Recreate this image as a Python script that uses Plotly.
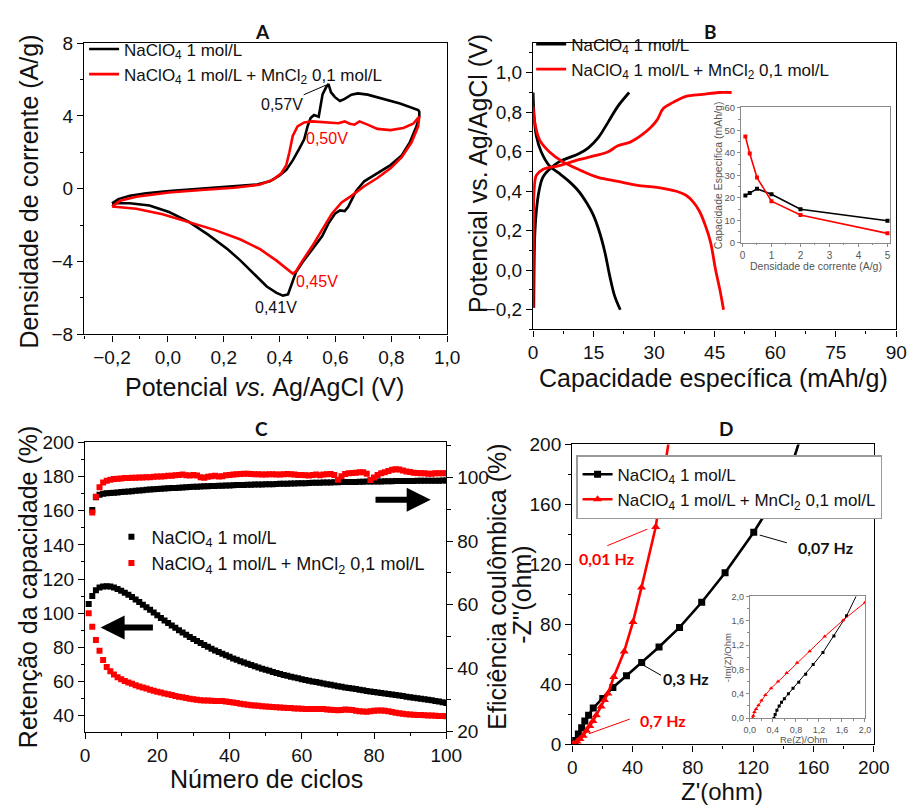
import plotly.graph_objects as go

W, H = 922, 810
FONT = "Liberation Sans"
BOLD = "Lato"
RED = "#ff0000"
BLACK = "#000000"

# ---------- A: cyclic voltammetry (potential V, current density A/g) ----------
cv_e_black = [-0.2, -0.177, -0.136, -0.078, 0.004, 0.12, 0.237, 0.319, 0.365, 0.4, 0.424, 0.447, 0.47,
              0.488, 0.5, 0.511, 0.523, 0.54, 0.546, 0.554, 0.566, 0.575, 0.584, 0.598, 0.616, 0.633,
              0.657, 0.68, 0.715, 0.773, 0.831, 0.896, 0.9,
              0.9, 0.89, 0.866, 0.837, 0.797, 0.75, 0.703, 0.674, 0.657, 0.645, 0.633, 0.616, 0.598,
              0.575, 0.552, 0.517, 0.482, 0.459, 0.441, 0.43, 0.412, 0.389, 0.354, 0.307, 0.26, 0.214,
              0.144, 0.074, 0.004, -0.066, -0.136, -0.183, -0.2]
cv_i_black = [-0.8, -0.57, -0.39, -0.25, -0.12, 0.0, 0.12, 0.23, 0.41, 0.73, 1.03, 1.56, 2.19,
              2.72, 3.43, 3.88, 4.05, 3.96, 4.5, 5.2, 5.56, 5.75, 5.3, 5.03, 4.82, 4.94,
              5.17, 5.24, 5.17, 4.94, 4.68, 4.32, 4.23,
              3.96, 3.43, 2.54, 1.83, 1.3, 0.85, 0.41, -0.12, -0.66, -1.01, -1.23, -1.19, -1.37,
              -1.9, -2.61, -3.32, -4.04, -4.57, -5.28, -5.81, -5.87, -5.72, -5.37, -4.66, -3.95, -3.32,
              -2.52, -1.81, -1.28, -0.92, -0.8, -0.8, -0.84]
cv_e_red = [-0.2, -0.171, -0.113, 0.004, 0.12, 0.237, 0.33, 0.377, 0.406, 0.424, 0.435, 0.447, 0.464,
            0.488, 0.517, 0.563, 0.61, 0.633, 0.651, 0.668, 0.686, 0.715, 0.75, 0.797, 0.843, 0.878, 0.9,
            0.896, 0.872, 0.837, 0.797, 0.75, 0.703, 0.657, 0.622, 0.587, 0.552, 0.517, 0.482, 0.459,
            0.447, 0.424, 0.389, 0.33, 0.26, 0.167, 0.074, -0.019, -0.113, -0.183, -0.2]
cv_i_red = [-0.98, -0.66, -0.44, -0.21, -0.07, 0.05, 0.23, 0.5, 0.85, 1.3, 2.0, 2.9, 3.43,
            3.64, 3.7, 3.64, 3.6, 3.7, 3.57, 3.52, 3.7, 3.52, 3.29, 3.22, 3.34, 3.57, 3.96,
            3.43, 2.54, 1.74, 1.12, 0.59, 0.14, -0.39, -0.75, -1.37, -2.26, -3.15, -3.95, -4.53,
            -4.66, -4.39, -3.95, -3.32, -2.79, -2.26, -1.81, -1.4, -1.1, -1.01, -0.98]

# ---------- B: charge / discharge (capacity mAh/g, potential V) ----------
gcd_black_ch_q = [0.16, 0.24, 0.4, 0.8, 1.45, 2.4, 4.0, 6.5, 8.9, 11.3, 13.7, 16.1, 18.6, 21.0, 23.8]
gcd_black_ch_v = [-0.19, 0.005, 0.17, 0.3, 0.4, 0.47, 0.51, 0.55, 0.57, 0.59, 0.62, 0.67, 0.75, 0.83, 0.9]
gcd_black_dis_q = [0.0, 0.24, 0.8, 2.0, 4.0, 6.5, 8.9, 11.3, 13.3, 14.9, 16.5, 17.8, 19.0, 20.2, 21.6]
gcd_black_dis_v = [0.9, 0.78, 0.68, 0.6, 0.53, 0.49, 0.45, 0.4, 0.34, 0.28, 0.19, 0.09, -0.03, -0.13, -0.2]
gcd_red_ch_q = [0.0, 0.08, 0.24, 0.8, 2.4, 6.5, 11.3, 15.3, 18.6, 21.0, 24.2, 26.6, 29.0, 30.7, 32.3,
                34.7, 37.9, 42.0, 46.0, 49.2]
gcd_red_ch_v = [-0.19, 0.17, 0.4, 0.48, 0.51, 0.53, 0.56, 0.58, 0.6, 0.63, 0.65, 0.68, 0.72, 0.76, 0.82,
                0.85, 0.88, 0.89, 0.9, 0.9]
gcd_red_dis_q = [0.0, 0.4, 1.6, 4.0, 7.3, 11.3, 16.1, 21.0, 25.8, 30.7, 35.5, 37.9, 39.5, 41.2, 42.8,
                 44.0, 45.2, 46.4, 47.2]
gcd_red_dis_v = [0.83, 0.75, 0.66, 0.6, 0.55, 0.51, 0.47, 0.45, 0.43, 0.42, 0.4, 0.38, 0.35, 0.3, 0.22,
                 0.14, 0.005, -0.11, -0.2]

# rate capability (inset)
rate_current = [0.1, 0.25, 0.5, 1, 2, 5]
rate_cap_black = [21.0, 22.1, 24.0, 21.6, 14.9, 9.8]
rate_cap_red = [47.3, 39.7, 29.0, 18.5, 12.4, 4.2]

# ---------- C: cycling stability ----------
cycles = list(range(1, 101))
retention_black = [105.3, 110, 113.5, 115, 115.6, 115.8, 115.6, 115, 114.2, 113.2,
                   112, 110.8, 109.5, 108, 106.6, 105, 103.5, 102, 100.4, 98.8,
                   97.2, 95.7, 94.2, 92.8, 91.4, 90, 88.7, 87.4, 86.1, 84.9,
                   83.7, 82.5, 81.4, 80.3, 79.2, 78.2, 77.2, 76.2, 75.3, 74.4,
                   73.5, 72.7, 71.9, 71.1, 70.3, 69.6, 68.9, 68.2, 67.5, 66.8,
                   66.2, 65.6, 65, 64.4, 63.8, 63.3, 62.8, 62.3, 61.8, 61.3,
                   60.8, 60.4, 60, 59.6, 59.2, 58.8, 58.4, 58, 57.6, 57.2,
                   56.9, 56.5, 56.2, 55.8, 55.5, 55.1, 54.8, 54.4, 54.1, 53.8,
                   53.5, 53.2, 52.9, 52.6, 52.3, 52, 51.7, 51.4, 51.1, 50.8,
                   50.5, 50.2, 49.9, 49.6, 49.3, 49, 48.6, 48.2, 47.8, 47.4]
retention_red = [100, 92, 84.3, 78, 72.5, 68.5, 66, 64, 62.5, 61.3,
                 60.3, 59.4, 58.6, 57.8, 57.1, 56.4, 55.8, 55.2, 54.6, 54,
                 53.5, 53, 52.5, 52, 51.5, 51.1, 50.7, 50.3, 49.9, 49.5,
                 49.2, 49, 48.9, 48.8, 48.7, 48.6, 48.6, 48.5, 48.3, 48,
                 47.7, 47.3, 46.9, 46.6, 46.3, 46.1, 45.9, 45.7, 45.5, 45.3,
                 45.2, 45, 44.9, 44.8, 44.6, 44.5, 44.4, 44.2, 44.1, 44,
                 43.9, 43.8, 43.8, 43.9, 43.9, 43.8, 43.6, 43.4, 43.2, 43.1,
                 43.3, 43.5, 43.4, 43.2, 42.9, 42.6, 42.4, 42.3, 42.5, 42.8,
                 43, 43, 42.8, 42.5, 42.1, 41.7, 41.3, 41, 40.8, 40.6,
                 40.5, 40.4, 40.3, 40.2, 40.1, 40, 39.9, 39.8, 39.7, 39.6]
ce_cycles = list(range(2, 101))
ce_black = [89.8, 93.8, 94.6, 94.9, 95.0, 95.1, 95.2, 95.3, 95.4,
            95.5, 95.6, 95.7, 95.8, 95.9, 96.0, 96.1, 96.2, 96.3, 96.4,
            96.45, 96.5, 96.6, 96.65, 96.7, 96.8, 96.85, 96.9, 97.0, 97.05,
            97.1, 97.15, 97.2, 97.25, 97.3, 97.35, 97.4, 97.4, 97.45, 97.5,
            97.55, 97.6, 97.6, 97.65, 97.7, 97.7, 97.75, 97.8, 97.8, 97.85,
            97.9, 97.9, 97.95, 98.0, 98.0, 98.05, 98.1, 98.1, 98.15, 98.2,
            98.2, 98.25, 98.3, 98.3, 98.35, 98.4, 98.4, 98.45, 98.5, 98.5,
            98.55, 98.55, 98.6, 98.6, 98.6, 98.65, 98.65, 98.7, 98.7, 98.7,
            98.75, 98.75, 98.8, 98.8, 98.8, 98.85, 98.85, 98.9, 98.9, 98.9,
            98.9, 98.95, 98.95, 98.95, 99.0, 99.0, 99.0, 99.0, 99.05, 99.05]
ce_red = [89.0, 93.9, 96.9, 98.4, 99.0, 99.3, 99.5, 99.6, 99.7,
          99.8, 99.8, 99.9, 99.9, 100.0, 100.0, 100.1, 100.1, 100.2, 100.3,
          100.3, 100.4, 100.5, 100.5, 100.7, 100.8, 100.9, 100.7, 100.6, 100.8,
          100.6, 100.1, 99.9, 100.2, 100.4, 100.5, 100.3, 100.4, 100.7, 100.8,
          100.9, 101.0, 101.1, 101.2, 101.2, 101.1, 101.0, 101.0, 100.9, 100.9,
          101.0, 101.0, 100.9, 100.9, 101.0, 101.1, 101.0, 100.9, 100.8, 100.8,
          100.7, 100.6, 100.8, 100.9, 100.7, 100.9, 101.0, 101.1, 100.8, 99.3,
          100.4, 101.1, 101.3, 101.4, 101.5, 101.6, 101.6, 101.2, 99.2, 100.0,
          100.8, 101.3, 101.6, 102.0, 102.4, 102.6, 102.5, 102.2, 101.9, 101.7,
          101.5, 101.4, 101.3, 101.3, 101.2, 101.2, 101.3, 101.3, 101.3, 101.3]

# ---------- D: Nyquist plots (ohm) ----------
eis_black_re = [0.4, 0.8, 1.9, 4.1, 6.3, 8.4, 10.9, 14.0, 20.3, 27.0, 36.0, 46.1, 57.6, 71.2, 85.9,
                101.4, 120.4, 143.0, 157.0]
eis_black_im = [0.0, 0.4, 2.6, 6.9, 11.2, 15.6, 19.5, 24.3, 30.7, 38.0, 45.8, 54.6, 65.0, 78.0, 94.8,
                114.5, 141.5, 178.0, 222.0]
eis_red_re = [0.05, 1.0, 3.2, 5.2, 7.3, 9.5, 11.7, 13.8, 16.0, 19.2, 21.4, 23.7, 27.6, 34.5, 40.3,
              46.0, 55.4, 66.0]
eis_red_im = [0.0, 0.5, 2.0, 3.7, 5.8, 9.1, 12.3, 15.6, 19.5, 25.3, 29.7, 34.0, 45.0, 62.0, 81.6,
              104.7, 145.0, 215.0]
# high-frequency detail (inset)
hf_black_re = [0.42, 0.44, 0.47, 0.51, 0.55, 0.6, 0.67, 0.75, 0.85, 0.97, 1.1, 1.27, 1.46, 1.68, 1.87]
hf_black_im = [0.0, 0.06, 0.13, 0.2, 0.26, 0.32, 0.4, 0.49, 0.59, 0.72, 0.88, 1.08, 1.35, 1.68, 2.05]
hf_red_re = [0.05, 0.06, 0.08, 0.11, 0.15, 0.2, 0.27, 0.37, 0.49, 0.64, 0.82, 1.04, 1.3, 1.62, 2.0]
hf_red_im = [0.0, 0.04, 0.1, 0.15, 0.21, 0.29, 0.38, 0.49, 0.6, 0.74, 0.91, 1.1, 1.34, 1.61, 1.9]

LBL_BLACK = "NaClO<sub>4</sub> 1 mol/L"
LBL_RED = "NaClO<sub>4</sub> 1 mol/L + MnCl<sub>2</sub> 0,1 mol/L"


def xdom(a, b):
    return [a / W, b / W]


def ydom(top, bottom):
    return [1 - bottom / H, 1 - top / H]


def axis(domain, rng, dtick, minor, fmt=None, size=19, color="#111111", line="#000000",
         tlen=6, lw=1.3, mirror=True, **kw):
    d = dict(domain=domain, range=rng, dtick=dtick, tick0=0, showgrid=False, zeroline=False,
             showline=True, linecolor=line, linewidth=lw, mirror=mirror, ticks="outside",
             ticklen=tlen, tickwidth=lw, tickcolor=line,
             tickfont=dict(family=FONT, size=size, color=color),
             minor=dict(ticks="outside", ticklen=tlen * 0.55, dtick=minor, tickcolor=line,
                        tickwidth=lw, showgrid=False))
    if fmt:
        d["tickformat"] = fmt
    d.update(kw)
    return d


fig = go.Figure()

# A
fig.add_trace(go.Scatter(x=cv_e_black, y=cv_i_black, mode="lines", name=LBL_BLACK,
                         line=dict(color=BLACK, width=2.6), xaxis="x", yaxis="y", legend="legend"))
fig.add_trace(go.Scatter(x=cv_e_red, y=cv_i_red, mode="lines", name=LBL_RED,
                         line=dict(color=RED, width=2.6), xaxis="x", yaxis="y", legend="legend"))

# B
fig.add_trace(go.Scatter(x=gcd_black_ch_q, y=gcd_black_ch_v, mode="lines", name=LBL_BLACK,
                         legendgroup="b1", line=dict(color=BLACK, width=2.8, shape="spline"),
                         xaxis="x2", yaxis="y2", legend="legend2"))
fig.add_trace(go.Scatter(x=gcd_black_dis_q, y=gcd_black_dis_v, mode="lines", name=LBL_BLACK,
                         legendgroup="b1", showlegend=False,
                         line=dict(color=BLACK, width=2.8, shape="spline"), xaxis="x2", yaxis="y2"))
fig.add_trace(go.Scatter(x=gcd_red_ch_q, y=gcd_red_ch_v, mode="lines", name=LBL_RED,
                         legendgroup="b2", line=dict(color=RED, width=2.8, shape="spline"),
                         xaxis="x2", yaxis="y2", legend="legend2"))
fig.add_trace(go.Scatter(x=gcd_red_dis_q, y=gcd_red_dis_v, mode="lines", name=LBL_RED,
                         legendgroup="b2", showlegend=False,
                         line=dict(color=RED, width=2.8, shape="spline"), xaxis="x2", yaxis="y2"))
fig.add_trace(go.Scatter(x=rate_current, y=rate_cap_black, mode="lines+markers", showlegend=False,
                         line=dict(color=BLACK, width=1.6), marker=dict(symbol="square", size=4, color=BLACK),
                         xaxis="x3", yaxis="y3"))
fig.add_trace(go.Scatter(x=rate_current, y=rate_cap_red, mode="lines+markers", showlegend=False,
                         line=dict(color=RED, width=1.6), marker=dict(symbol="square", size=4, color=RED),
                         xaxis="x3", yaxis="y3"))

# C
fig.add_trace(go.Scatter(x=cycles, y=retention_black, mode="markers", name=LBL_BLACK,
                         marker=dict(symbol="square", size=6, color=BLACK),
                         xaxis="x4", yaxis="y4", legend="legend3"))
fig.add_trace(go.Scatter(x=cycles, y=retention_red, mode="markers", name=LBL_RED,
                         marker=dict(symbol="square", size=6, color=RED),
                         xaxis="x4", yaxis="y4", legend="legend3"))
fig.add_trace(go.Scatter(x=ce_cycles, y=ce_black, mode="markers", showlegend=False,
                         marker=dict(symbol="square", size=6, color=BLACK), xaxis="x4", yaxis="y5"))
fig.add_trace(go.Scatter(x=ce_cycles, y=ce_red, mode="markers", showlegend=False,
                         marker=dict(symbol="square", size=6, color=RED), xaxis="x4", yaxis="y5"))

# D
fig.add_trace(go.Scatter(x=eis_black_re, y=eis_black_im, mode="lines+markers", name=LBL_BLACK,
                         line=dict(color=BLACK, width=2.6), marker=dict(symbol="square", size=7, color=BLACK),
                         xaxis="x6", yaxis="y6", legend="legend4"))
fig.add_trace(go.Scatter(x=eis_red_re, y=eis_red_im, mode="lines+markers", name=LBL_RED,
                         line=dict(color=RED, width=2.6), marker=dict(symbol="triangle-up", size=8, color=RED),
                         xaxis="x6", yaxis="y6", legend="legend4"))
fig.add_trace(go.Scatter(x=hf_black_re, y=hf_black_im, mode="lines+markers", showlegend=False,
                         line=dict(color=BLACK, width=1), marker=dict(symbol="square", size=3, color=BLACK),
                         xaxis="x7", yaxis="y7"))
fig.add_trace(go.Scatter(x=hf_red_re, y=hf_red_im, mode="lines+markers", showlegend=False,
                         line=dict(color=RED, width=1), marker=dict(symbol="triangle-up", size=4, color=RED),
                         xaxis="x7", yaxis="y7"))

GRAY = "#555555"
FRAME = "#8a8a8a"

layout = dict(
    width=W, height=H, margin=dict(l=0, r=0, t=0, b=0),
    paper_bgcolor="white", plot_bgcolor="white", separators=", ",
    font=dict(family=FONT, color="#111111"),
    # A
    xaxis=axis(xdom(80, 452), [-0.3, 1.0], 0.2, 0.1, ".1f", anchor="y"),
    yaxis=axis(ydom(34, 333), [-8, 8], 4, 2, anchor="x"),
    # B
    xaxis2=axis(xdom(540, 912), [0, 90], 15, 7.5, anchor="y2"),
    yaxis2=axis(ydom(34, 328), [-0.3, 1.15], 0.2, 0.1, ".1f", anchor="x2"),
    xaxis3=axis(xdom(753, 906), [-0.05, 5.1], 1, 0.5, size=10, color=GRAY, line=FRAME, tlen=3, lw=1,
                anchor="y3"),
    yaxis3=axis(ydom(100, 239), [0, 60.2], 10, 5, size=9.5, color=GRAY, line=FRAME, tlen=3, lw=1,
                anchor="x3"),
    # C
    xaxis4=axis(xdom(81, 451), [0, 100], 20, 10, anchor="y4"),
    yaxis4=axis(ydom(444, 741), [30.5, 200], 20, 10, anchor="x4", mirror=False),
    yaxis5=axis(ydom(444, 741), [20, 111], 20, 10, anchor="x4", overlaying="y4", side="right",
                mirror=False),
    # D
    xaxis6=axis(xdom(580, 889), [0, 200], 40, 20, anchor="y6"),
    yaxis6=axis(ydom(446, 754), [0, 200], 40, 20, anchor="x6"),
    xaxis7=axis(xdom(762, 880), [0, 2], 0.4, 0.2, ".1f", size=9, color=GRAY, line=FRAME, tlen=3, lw=1,
                anchor="y7"),
    yaxis7=axis(ydom(602, 727), [0, 2], 0.4, 0.2, ".1f", size=9, color=GRAY, line=FRAME, tlen=3, lw=1,
                anchor="x7"),
    legend=dict(x=80 / W, y=1 - 22 / H, xanchor="left", yanchor="top", bgcolor="rgba(0,0,0,0)",
                font=dict(family=FONT, size=17, color="#111111"), tracegroupgap=0),
    legend2=dict(x=538 / W, y=1 - 17 / H, xanchor="left", yanchor="top", bgcolor="rgba(0,0,0,0)",
                 font=dict(family=FONT, size=17, color="#111111"), tracegroupgap=0),
    legend3=dict(x=108 / W, y=1 - 522 / H, xanchor="left", yanchor="top", bgcolor="rgba(0,0,0,0)",
                 font=dict(family=FONT, size=18, color="#111111"), tracegroupgap=0),
    legend4=dict(x=584 / W, y=1 - 457 / H, xanchor="left", yanchor="top", bgcolor="white",
                 bordercolor="#9a9a9a", borderwidth=1.5,
                 font=dict(family=FONT, size=17, color="#111111"), tracegroupgap=0),
)
fig.update_layout(**layout)


def label(text, x, y, size=25, angle=0, color="#111111", family=FONT, ref=("paper", "paper")):
    fig.add_annotation(text=text, x=x, y=y, xref=ref[0], yref=ref[1], showarrow=False,
                       textangle=angle, xanchor="center", yanchor="middle",
                       font=dict(family=family, size=size, color=color))


def plabel(text, px_x, px_y, **kw):
    label(text, px_x / W, 1 - px_y / H, **kw)


# panel letters
for letter, lx, ly in [("A", 263, 22), ("B", 722, 22), ("C", 262, 430), ("D", 738, 430)]:
    plabel("<b>%s</b>" % letter, lx, ly, size=19, family=BOLD)

# axis titles
plabel("Densidade de corrente (A/g)", 24, 186, angle=-90)
plabel("Potencial <i>vs.</i> Ag/AgCl (V)", 265, 387)
plabel("Potencial vs. Ag/AgCl (V)", 483, 168, angle=-90)
plabel("Capacidade específica (mAh/g)", 725, 378)
plabel("Retenção da capacidade (%)", 22, 592, angle=-90)
plabel("Número de ciclos", 267, 789)
plabel("Eficiência coulômbica (%)", 503, 592, angle=-90)
plabel("-Z''(ohm)", 529, 600, angle=-90)
plabel("Z'(ohm)", 734, 802, size=24)
# inset titles
plabel("Capacidade Específica (mAh/g)", 729, 170, size=10.5, angle=-90, color=GRAY)
plabel("Densidade de corrente (A/g)", 830, 263, size=10.5, color=GRAY)
plabel("-Im(Z)/Ohm", 739, 665, size=9.5, angle=-90, color=GRAY)
plabel("Re(Z)/Ohm", 818, 749, size=9.5, color=GRAY)

# A: peak potentials
label("0,57V", 0.409, 4.63, size=16, ref=("x", "y"))
label("0,50V", 0.570, 2.76, size=16, color=RED, ref=("x", "y"))
label("0,45V", 0.535, -5.11, size=16, color=RED, ref=("x", "y"))
label("0,41V", 0.388, -6.55, size=16, ref=("x", "y"))
fig.add_shape(type="line", x0=0.486, y0=5.16, x1=0.567, y1=5.70, xref="x", yref="y",
              line=dict(color=BLACK, width=1))

# D: frequency markers
label("<b>0,01 Hz</b>", 22.7, 124, size=16, color=RED, family=BOLD, ref=("x6", "y6"))
label("<b>0,07 Hz</b>", 168.3, 131.2, size=16, family=BOLD, ref=("x6", "y6"))
label("<b>0,3 Hz</b>", 75.7, 44.2, size=16, family=BOLD, ref=("x6", "y6"))
label("<b>0,7 Hz</b>", 60.2, 16.2, size=16, color=RED, family=BOLD, ref=("x6", "y6"))
for x0, y0, x1, y1, c in [(23.3, 132.5, 49.8, 143.5, RED), (124.3, 139.6, 142.4, 134.4, BLACK),
                          (46.6, 53.2, 58.9, 46.1, BLACK), (11.0, 7.1, 38.2, 16.9, RED)]:
    fig.add_shape(type="line", x0=x0, y0=y0, x1=x1, y1=y1, xref="x6", yref="y6",
                  line=dict(color=c, width=1))

# C: arrows pointing to the relevant axis
fig.add_annotation(x=4.3, y=91.6, ax=19.2, ay=91.6, xref="x4", yref="y4", axref="x4", ayref="y4",
                   text="", showarrow=True, arrowhead=2, arrowsize=0.8, arrowwidth=6, arrowcolor=BLACK)
fig.add_annotation(x=95.7, y=93, ax=80, ay=93, xref="x4", yref="y5", axref="x4", ayref="y5",
                   text="", showarrow=True, arrowhead=2, arrowsize=0.8, arrowwidth=6, arrowcolor=BLACK)

fig.write_html("out.html")
